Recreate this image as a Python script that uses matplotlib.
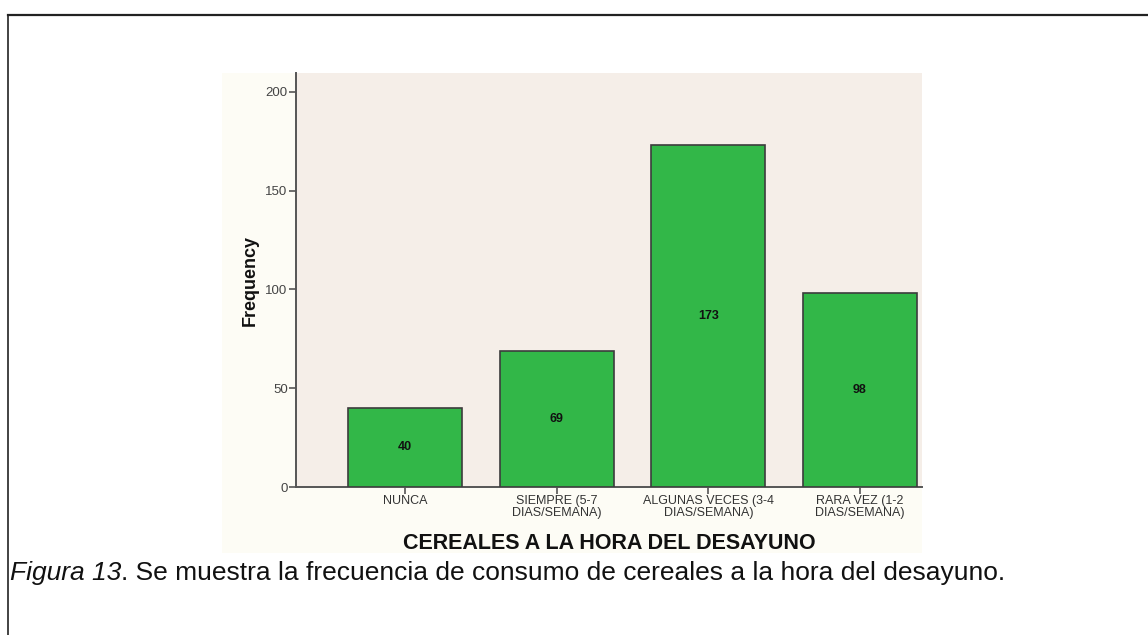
import matplotlib
matplotlib.use("Agg")
import matplotlib.pyplot as plt
from matplotlib.patches import Rectangle
from matplotlib.lines import Line2D

categories = ["NUNCA", "SIEMPRE (5-7\nDIAS/SEMANA)", "ALGUNAS VECES (3-4\nDIAS/SEMANA)",
              "RARA VEZ (1-2\nDIAS/SEMANA)"]
frequencies = [40, 69, 173, 98]
y_ticks = [0, 50, 100, 150, 200]
x_title = "CEREALES A LA HORA DEL DESAYUNO"
y_title = "Frequency"

W, H = 1148, 635
fig = plt.figure(figsize=(W / 100, H / 100), dpi=100)
fig.patch.set_facecolor("white")

sans = ["Liberation Sans", "DejaVu Sans"]

# page frame: top rule and left rule
fig.add_artist(Line2D([8 / W, 1.0], [1 - 15 / H, 1 - 15 / H], color="#222222", lw=1.6,
                      transform=fig.transFigure))
fig.add_artist(Line2D([8 / W, 8 / W], [1 - 15 / H, 0.0], color="#222222", lw=1.2,
                      transform=fig.transFigure))

# chart background panel
fig.add_artist(Rectangle((222 / W, 1 - 553 / H), (922 - 222) / W, (553 - 73) / H,
                         transform=fig.transFigure, facecolor="#fdfcf5", edgecolor="none",
                         zorder=0))

ax = fig.add_axes([296 / W, 1 - 487 / H, (922 - 296) / W, (487 - 73) / H])
ax.set_facecolor("#f5eee8")

x = list(range(len(categories)))
bars = ax.bar(x, frequencies, width=0.75, color="#32b748", edgecolor="#3c3c3c",
              linewidth=1.2, zorder=3)
for xi, v in zip(x, frequencies):
    ax.text(xi, v / 2, str(v), ha="center", va="center", fontsize=9, fontweight="bold",
            family=sans, color="#111111", zorder=4)

ax.set_xlim(-0.72, 3.41)
ax.set_ylim(0, 209.6)
ax.set_yticks(y_ticks)
ax.set_xticks(x)
ax.set_xticklabels(categories, fontsize=9, family=sans, color="#333333",
                   linespacing=0.95)
ax.set_yticklabels([str(t) for t in y_ticks], fontsize=9.5, family=sans, color="#444444")
ax.tick_params(axis="both", direction="out", length=5, width=1.2, color="#555555", pad=1)

for s in ["top", "right"]:
    ax.spines[s].set_visible(False)
for s in ["left", "bottom"]:
    ax.spines[s].set_color("#555555")
    ax.spines[s].set_linewidth(1.4)

ax.set_xlabel(x_title, fontsize=15.5, fontweight="bold", family=sans, color="#111111",
              labelpad=10)
ax.set_ylabel(y_title, fontsize=13, fontweight="bold", family=sans, color="#111111",
              labelpad=5)

# caption below the chart
fig.text(10 / W, 1 - 580 / H, "Figura 13", fontsize=19, style="italic", family=sans,
         color="#111111", va="baseline")
fig.canvas.draw()
r = fig.texts[-1].get_window_extent()
fig.text(r.x1 / W, 1 - 580 / H,
         ". Se muestra la frecuencia de consumo de cereales a la hora del desayuno.",
         fontsize=19, family=sans, color="#111111", va="baseline")

fig.savefig("out.png", dpi=100, facecolor="white")
